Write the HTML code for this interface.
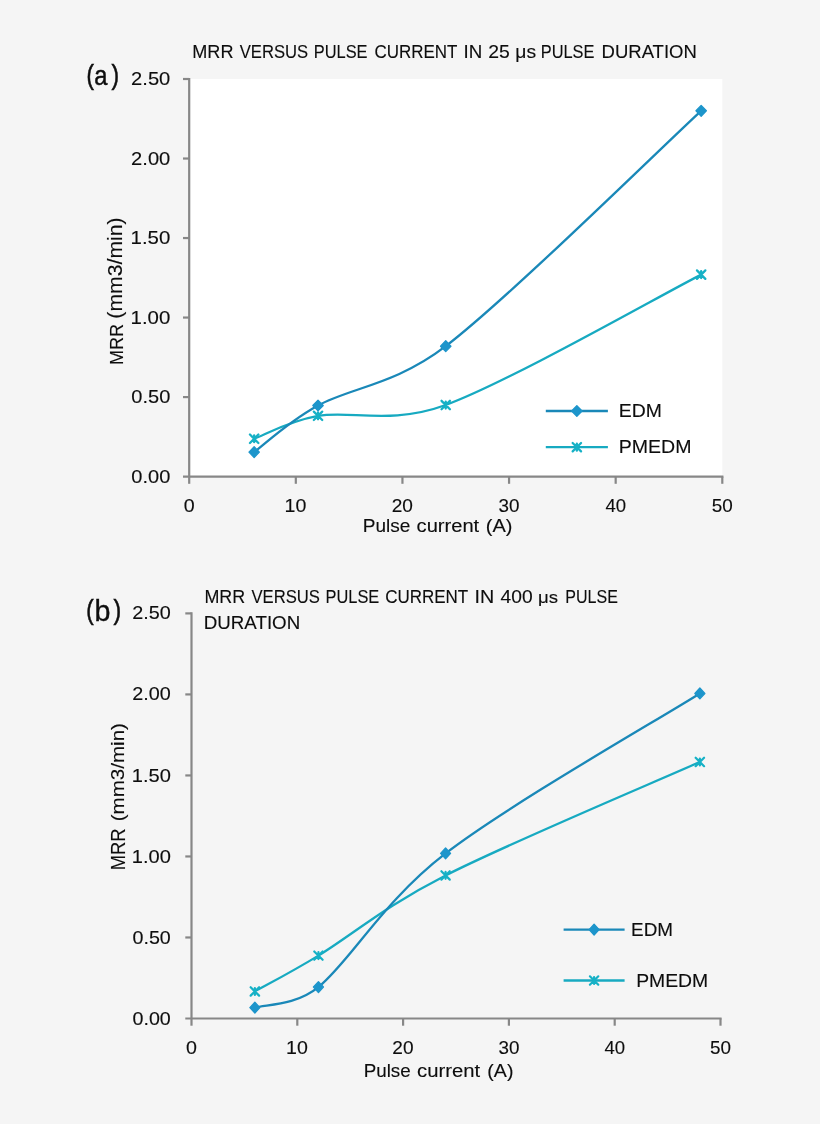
<!DOCTYPE html>
<html><head><meta charset="utf-8"><style>
html,body{margin:0;padding:0;background:#f5f5f5;}
body{width:820px;height:1124px;overflow:hidden;}
svg{display:block;will-change:transform;filter:blur(0.35px);}
text{font-family:"Liberation Sans", sans-serif;stroke:#0d0d0d;stroke-width:0.12px;}
</style></head><body>
<svg width="820" height="1124" viewBox="0 0 820 1124">
<rect width="820" height="1124" fill="#f5f5f5"/>
<rect x="189.20" y="79.00" width="533.10" height="397.60" fill="#ffffff"/>
<g stroke="#878787" stroke-width="2.20" fill="none">
<path d="M189.20 77.90L189.20 476.60"/>
<path d="M183.00 476.60L723.40 476.60"/>
<path d="M183.00 397.08L189.20 397.08"/>
<path d="M183.00 317.56L189.20 317.56"/>
<path d="M183.00 238.04L189.20 238.04"/>
<path d="M183.00 158.52L189.20 158.52"/>
<path d="M183.00 79.00L189.20 79.00"/>
<path d="M189.20 476.60L189.20 483.80"/>
<path d="M295.82 476.60L295.82 483.80"/>
<path d="M402.44 476.60L402.44 483.80"/>
<path d="M509.06 476.60L509.06 483.80"/>
<path d="M615.68 476.60L615.68 483.80"/>
<path d="M722.30 476.60L722.30 483.80"/>
</g>
<g fill="#0d0d0d">
<text x="131.37" y="482.67" font-size="18.50" textLength="38.96" lengthAdjust="spacingAndGlyphs">0.00</text>
<text x="131.37" y="403.15" font-size="18.50" textLength="38.96" lengthAdjust="spacingAndGlyphs">0.50</text>
<text x="130.59" y="323.63" font-size="18.50" textLength="39.75" lengthAdjust="spacingAndGlyphs">1.00</text>
<text x="130.59" y="244.11" font-size="18.50" textLength="39.75" lengthAdjust="spacingAndGlyphs">1.50</text>
<text x="131.14" y="164.59" font-size="18.50" textLength="39.20" lengthAdjust="spacingAndGlyphs">2.00</text>
<text x="131.14" y="85.07" font-size="18.50" textLength="39.20" lengthAdjust="spacingAndGlyphs">2.50</text>
<text transform="translate(183.73 511.87) scale(1.0710 1)" font-size="18.36">0</text>
<text x="284.58" y="511.87" font-size="18.36" textLength="21.75" lengthAdjust="spacingAndGlyphs">10</text>
<text x="391.73" y="511.87" font-size="18.36" textLength="21.20" lengthAdjust="spacingAndGlyphs">20</text>
<text x="498.59" y="511.87" font-size="18.36" textLength="20.95" lengthAdjust="spacingAndGlyphs">30</text>
<text x="605.50" y="511.87" font-size="18.36" textLength="20.65" lengthAdjust="spacingAndGlyphs">40</text>
<text x="711.79" y="511.87" font-size="18.36" textLength="20.99" lengthAdjust="spacingAndGlyphs">50</text>
<text transform="translate(86.57 83.64) scale(0.7794 1)" font-size="28.55" style="stroke-width:0.60px">(</text>
<text transform="translate(94.34 85.39) scale(0.8852 1)" font-size="26.83" style="stroke-width:0.45px">a</text>
<text transform="translate(111.52 83.64) scale(0.7926 1)" font-size="28.55" style="stroke-width:0.60px">)</text>
<text x="192.27" y="58.05" font-size="19.04" textLength="41.22" lengthAdjust="spacingAndGlyphs">MRR</text>
<text x="239.78" y="58.05" font-size="19.04" textLength="68.44" lengthAdjust="spacingAndGlyphs">VERSUS</text>
<text x="313.81" y="58.05" font-size="19.04" textLength="53.75" lengthAdjust="spacingAndGlyphs">PULSE</text>
<text x="374.39" y="58.05" font-size="19.04" textLength="82.95" lengthAdjust="spacingAndGlyphs">CURRENT</text>
<text x="463.62" y="58.05" font-size="19.04" textLength="18.76" lengthAdjust="spacingAndGlyphs">IN</text>
<text x="488.27" y="58.05" font-size="19.04" textLength="21.59" lengthAdjust="spacingAndGlyphs">25</text>
<text x="515.25" y="57.59" font-size="18.53" textLength="20.80" lengthAdjust="spacingAndGlyphs">μs</text>
<text x="540.81" y="58.05" font-size="19.04" textLength="53.64" lengthAdjust="spacingAndGlyphs">PULSE</text>
<text x="601.55" y="58.05" font-size="19.04" textLength="95.28" lengthAdjust="spacingAndGlyphs">DURATION</text>
<text x="362.69" y="532.46" font-size="19.06" textLength="47.61" lengthAdjust="spacingAndGlyphs">Pulse</text>
<text x="416.60" y="532.47" font-size="17.98" textLength="62.60" lengthAdjust="spacingAndGlyphs">current</text>
<text x="485.81" y="532.09" font-size="19.11" textLength="26.68" lengthAdjust="spacingAndGlyphs">(A)</text>
<text x="618.76" y="416.65" font-size="18.90" textLength="43.08" lengthAdjust="spacingAndGlyphs">EDM</text>
<text x="618.75" y="452.85" font-size="18.90" textLength="72.70" lengthAdjust="spacingAndGlyphs">PMEDM</text>
<text transform="translate(122.75 363.65) rotate(-90)" x="-1.48" y="0" font-size="19.19" textLength="41.12" lengthAdjust="spacingAndGlyphs">MRR</text>
<text transform="translate(122.31 317.35) rotate(-90)" x="-1.31" y="0" font-size="19.54" textLength="101.23" lengthAdjust="spacingAndGlyphs">(mm3/min)</text>
</g>
<path d="M254.16 438.75 C264.80 434.93 287.95 421.14 318.02 415.85 C349.95 410.23 391.61 424.98 445.73 405.03 C509.59 381.49 658.59 296.35 701.16 274.62" stroke="#17aac1" stroke-width="2.30" fill="none" stroke-linejoin="round" stroke-linecap="round"/>
<path d="M254.16 452.11 C264.80 444.34 286.88 422.72 318.02 405.51 C349.95 387.86 395.50 384.82 445.73 346.19 C509.59 297.07 658.59 150.04 701.16 110.81" stroke="#1a88b8" stroke-width="2.30" fill="none" stroke-linejoin="round" stroke-linecap="round"/>
<path d="M249.96 434.55L258.36 442.95M258.36 434.55L249.96 442.95M254.16 435.30L254.16 442.20" stroke="#16b1c6" stroke-width="2.30" fill="none" stroke-linecap="round"/>
<path d="M313.82 411.65L322.22 420.05M322.22 411.65L313.82 420.05M318.02 412.40L318.02 419.30" stroke="#16b1c6" stroke-width="2.30" fill="none" stroke-linecap="round"/>
<path d="M441.53 400.83L449.93 409.23M449.93 400.83L441.53 409.23M445.73 401.58L445.73 408.48" stroke="#16b1c6" stroke-width="2.30" fill="none" stroke-linecap="round"/>
<path d="M696.96 270.42L705.36 278.82M705.36 270.42L696.96 278.82M701.16 271.17L701.16 278.07" stroke="#16b1c6" stroke-width="2.30" fill="none" stroke-linecap="round"/>
<path d="M254.16 446.71L259.36 452.11L254.16 457.51L248.96 452.11Z" fill="#1d95cb" stroke="#1d95cb" stroke-width="1.3" stroke-linejoin="round"/>
<path d="M318.02 400.11L323.22 405.51L318.02 410.91L312.82 405.51Z" fill="#1d95cb" stroke="#1d95cb" stroke-width="1.3" stroke-linejoin="round"/>
<path d="M445.73 340.79L450.93 346.19L445.73 351.59L440.53 346.19Z" fill="#1d95cb" stroke="#1d95cb" stroke-width="1.3" stroke-linejoin="round"/>
<path d="M701.16 105.41L706.36 110.81L701.16 116.21L695.96 110.81Z" fill="#1d95cb" stroke="#1d95cb" stroke-width="1.3" stroke-linejoin="round"/>
<path d="M545.80 411.00L607.90 411.00" stroke="#1a88b8" stroke-width="2.30"/>
<path d="M576.85 405.60L582.05 411.00L576.85 416.40L571.65 411.00Z" fill="#1d95cb" stroke="#1d95cb" stroke-width="1.3" stroke-linejoin="round"/>
<path d="M545.80 447.20L607.90 447.20" stroke="#17aac1" stroke-width="2.30"/>
<path d="M572.65 443.00L581.05 451.40M581.05 443.00L572.65 451.40M576.85 443.75L576.85 450.65" stroke="#16b1c6" stroke-width="2.30" fill="none" stroke-linecap="round"/>
<g stroke="#878787" stroke-width="2.20" fill="none">
<path d="M191.50 612.30L191.50 1018.50"/>
<path d="M185.30 1018.50L721.60 1018.50"/>
<path d="M185.30 937.48L191.50 937.48"/>
<path d="M185.30 856.46L191.50 856.46"/>
<path d="M185.30 775.44L191.50 775.44"/>
<path d="M185.30 694.42L191.50 694.42"/>
<path d="M185.30 613.40L191.50 613.40"/>
<path d="M191.50 1018.50L191.50 1025.70"/>
<path d="M297.30 1018.50L297.30 1025.70"/>
<path d="M403.10 1018.50L403.10 1025.70"/>
<path d="M508.90 1018.50L508.90 1025.70"/>
<path d="M614.70 1018.50L614.70 1025.70"/>
<path d="M720.50 1018.50L720.50 1025.70"/>
</g>
<g fill="#0d0d0d">
<text x="132.48" y="1024.57" font-size="18.50" textLength="38.34" lengthAdjust="spacingAndGlyphs">0.00</text>
<text x="132.48" y="943.55" font-size="18.50" textLength="38.34" lengthAdjust="spacingAndGlyphs">0.50</text>
<text x="131.72" y="862.53" font-size="18.50" textLength="39.12" lengthAdjust="spacingAndGlyphs">1.00</text>
<text x="131.72" y="781.51" font-size="18.50" textLength="39.12" lengthAdjust="spacingAndGlyphs">1.50</text>
<text x="132.25" y="700.49" font-size="18.50" textLength="38.57" lengthAdjust="spacingAndGlyphs">2.00</text>
<text x="132.25" y="619.47" font-size="18.50" textLength="38.57" lengthAdjust="spacingAndGlyphs">2.50</text>
<text transform="translate(186.03 1053.87) scale(1.0710 1)" font-size="18.36">0</text>
<text x="286.06" y="1053.87" font-size="18.36" textLength="21.75" lengthAdjust="spacingAndGlyphs">10</text>
<text x="392.39" y="1053.87" font-size="18.36" textLength="21.20" lengthAdjust="spacingAndGlyphs">20</text>
<text x="498.43" y="1053.87" font-size="18.36" textLength="20.95" lengthAdjust="spacingAndGlyphs">30</text>
<text x="604.52" y="1053.87" font-size="18.36" textLength="20.65" lengthAdjust="spacingAndGlyphs">40</text>
<text x="709.99" y="1053.87" font-size="18.36" textLength="20.99" lengthAdjust="spacingAndGlyphs">50</text>
<text transform="translate(86.37 618.76) scale(0.7823 1)" font-size="28.44" style="stroke-width:0.60px">(</text>
<text transform="translate(94.50 620.57) scale(0.9984 1)" font-size="28.73" style="stroke-width:0.35px">b</text>
<text transform="translate(113.62 618.76) scale(0.8088 1)" font-size="28.44" style="stroke-width:0.60px">)</text>
<text x="204.38" y="602.65" font-size="18.02" textLength="40.80" lengthAdjust="spacingAndGlyphs">MRR</text>
<text x="251.48" y="602.65" font-size="18.02" textLength="68.44" lengthAdjust="spacingAndGlyphs">VERSUS</text>
<text x="325.51" y="602.65" font-size="18.02" textLength="53.75" lengthAdjust="spacingAndGlyphs">PULSE</text>
<text x="385.19" y="602.65" font-size="18.02" textLength="83.05" lengthAdjust="spacingAndGlyphs">CURRENT</text>
<text x="474.43" y="602.65" font-size="18.02" textLength="19.73" lengthAdjust="spacingAndGlyphs">IN</text>
<text x="500.51" y="602.65" font-size="18.02" textLength="32.09" lengthAdjust="spacingAndGlyphs">400</text>
<text x="538.10" y="602.79" font-size="15.92" textLength="20.03" lengthAdjust="spacingAndGlyphs">μs</text>
<text x="565.34" y="602.65" font-size="18.02" textLength="52.50" lengthAdjust="spacingAndGlyphs">PULSE</text>
<text x="203.84" y="628.55" font-size="18.75" textLength="96.32" lengthAdjust="spacingAndGlyphs">DURATION</text>
<text x="363.71" y="1077.47" font-size="18.38" textLength="46.97" lengthAdjust="spacingAndGlyphs">Pulse</text>
<text x="417.09" y="1077.47" font-size="18.29" textLength="63.11" lengthAdjust="spacingAndGlyphs">current</text>
<text x="487.33" y="1077.07" font-size="19.21" textLength="26.13" lengthAdjust="spacingAndGlyphs">(A)</text>
<text x="631.10" y="935.65" font-size="18.60" textLength="41.89" lengthAdjust="spacingAndGlyphs">EDM</text>
<text x="636.16" y="986.85" font-size="18.75" textLength="72.08" lengthAdjust="spacingAndGlyphs">PMEDM</text>
<text transform="translate(124.85 868.85) rotate(-90)" x="-1.50" y="0" font-size="19.62" textLength="41.75" lengthAdjust="spacingAndGlyphs">MRR</text>
<text transform="translate(123.82 820.05) rotate(-90)" x="-1.28" y="0" font-size="19.00" textLength="98.25" lengthAdjust="spacingAndGlyphs">(mm3/min)</text>
</g>
<path d="M254.87 991.44 C265.47 985.47 290.39 972.69 318.44 955.63 C350.23 936.29 385.26 906.04 445.58 875.42 C509.15 843.15 657.48 780.90 699.86 761.99" stroke="#17aac1" stroke-width="2.30" fill="none" stroke-linejoin="round" stroke-linecap="round"/>
<path d="M254.87 1007.64 C265.47 1004.21 295.06 1005.97 318.44 987.06 C350.23 961.35 382.01 902.32 445.58 853.38 C509.15 804.45 657.48 720.10 699.86 693.45" stroke="#1a88b8" stroke-width="2.30" fill="none" stroke-linejoin="round" stroke-linecap="round"/>
<path d="M250.67 987.24L259.07 995.64M259.07 987.24L250.67 995.64M254.87 987.99L254.87 994.89" stroke="#16b1c6" stroke-width="2.20" fill="none" stroke-linecap="round"/>
<path d="M314.24 951.43L322.64 959.83M322.64 951.43L314.24 959.83M318.44 952.18L318.44 959.08" stroke="#16b1c6" stroke-width="2.20" fill="none" stroke-linecap="round"/>
<path d="M441.38 871.22L449.78 879.62M449.78 871.22L441.38 879.62M445.58 871.97L445.58 878.87" stroke="#16b1c6" stroke-width="2.20" fill="none" stroke-linecap="round"/>
<path d="M695.66 757.79L704.06 766.19M704.06 757.79L695.66 766.19M699.86 758.54L699.86 765.44" stroke="#16b1c6" stroke-width="2.20" fill="none" stroke-linecap="round"/>
<path d="M254.87 1002.24L259.87 1007.64L254.87 1013.04L249.87 1007.64Z" fill="#1d95cb" stroke="#1d95cb" stroke-width="1.3" stroke-linejoin="round"/>
<path d="M318.44 981.66L323.44 987.06L318.44 992.46L313.44 987.06Z" fill="#1d95cb" stroke="#1d95cb" stroke-width="1.3" stroke-linejoin="round"/>
<path d="M445.58 847.98L450.58 853.38L445.58 858.78L440.58 853.38Z" fill="#1d95cb" stroke="#1d95cb" stroke-width="1.3" stroke-linejoin="round"/>
<path d="M699.86 688.05L704.86 693.45L699.86 698.85L694.86 693.45Z" fill="#1d95cb" stroke="#1d95cb" stroke-width="1.3" stroke-linejoin="round"/>
<path d="M563.60 929.60L624.60 929.60" stroke="#1a88b8" stroke-width="2.30"/>
<path d="M594.10 924.20L599.10 929.60L594.10 935.00L589.10 929.60Z" fill="#1d95cb" stroke="#1d95cb" stroke-width="1.3" stroke-linejoin="round"/>
<path d="M563.60 980.50L624.60 980.50" stroke="#17aac1" stroke-width="2.30"/>
<path d="M589.90 976.30L598.30 984.70M598.30 976.30L589.90 984.70M594.10 977.05L594.10 983.95" stroke="#16b1c6" stroke-width="2.20" fill="none" stroke-linecap="round"/>
</svg>
</body></html>
